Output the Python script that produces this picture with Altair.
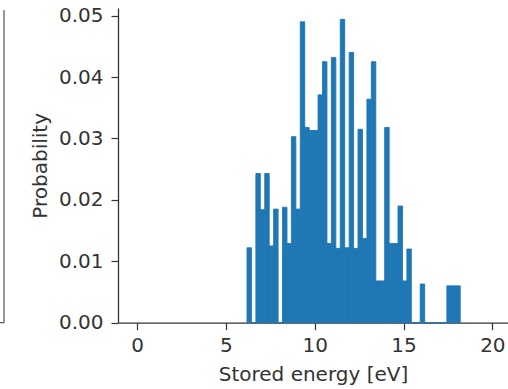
import altair as alt
import pandas as pd

# Histogram: 48 bins of width 0.25 eV starting at 6.19 eV
bin_start = 6.19
bin_width = 0.25
probability = [
    0.0122, 0.0, 0.0243, 0.0184, 0.0243, 0.0125, 0.0185, 0.0,
    0.0188, 0.0129, 0.0303, 0.0185, 0.0490, 0.0318, 0.0313, 0.0313,
    0.0371, 0.0425, 0.0129, 0.0432, 0.0121, 0.0494, 0.0122, 0.0440,
    0.0121, 0.0315, 0.0137, 0.0364, 0.0425, 0.0068, 0.0068, 0.0318,
    0.0129, 0.0129, 0.0190, 0.0068, 0.0120, 0.0, 0.0, 0.0063,
    0.0, 0.0, 0.0, 0.0, 0.0, 0.0060, 0.0060, 0.0060,
]
x_ticks = [0, 5, 10, 15, 20]
y_ticks = [0.00, 0.01, 0.02, 0.03, 0.04, 0.05]

df = pd.DataFrame({
    "lo": [bin_start + i * bin_width for i in range(len(probability))],
    "hi": [bin_start + (i + 1) * bin_width for i in range(len(probability))],
    "p": probability,
})

FONT = "DejaVu Sans"
W, H = 390, 314.7

bars = alt.Chart(df).mark_rect(
    color="#1f77b4", stroke="#1f77b4", strokeWidth=0.9
).encode(
    x=alt.X("lo:Q", scale=alt.Scale(domain=[-1.07, 20.88], nice=False, zero=False),
            axis=alt.Axis(values=x_ticks, title="Stored energy [eV]", format="d")),
    x2="hi:Q",
    y=alt.Y("p:Q", scale=alt.Scale(domain=[0, 0.05125], nice=False),
            axis=alt.Axis(values=y_ticks, title="Probability", format=".2f")),
    y2=alt.datum(0),
)

# fragment of neighbouring panel's frame at the far left
frag_v = alt.Chart(df.head(1)).mark_rule(color="#555", strokeWidth=1.2).encode(
    x=alt.value(-114), y=alt.value(2), y2=alt.value(H)
)
frag_h = alt.Chart(df.head(1)).mark_rule(color="#555", strokeWidth=1.2).encode(
    x=alt.value(-118), x2=alt.value(-114), y=alt.value(H)
)

chart = alt.layer(frag_v, frag_h, bars).properties(
    width=W, height=H,
    autosize=alt.AutoSizeParams(type="none"),
    padding={"left": 118, "top": 8, "right": 0, "bottom": 389 - 8 - H},
).configure_view(stroke=None).configure_axis(
    grid=False,
    domainColor="#333", domainWidth=1.3,
    tickColor="#333", tickWidth=1.2, tickSize=7,
    labelFont=FONT, labelFontSize=20, labelColor="#333",
    titleFont=FONT, titleFontSize=20, titleColor="#333", titleFontWeight="normal",
).configure_axisX(labelPadding=6, titlePadding=9).configure_axisY(labelPadding=8, titlePadding=8)

chart.save("out.html", embed_options={"renderer": "svg", "actions": False})
